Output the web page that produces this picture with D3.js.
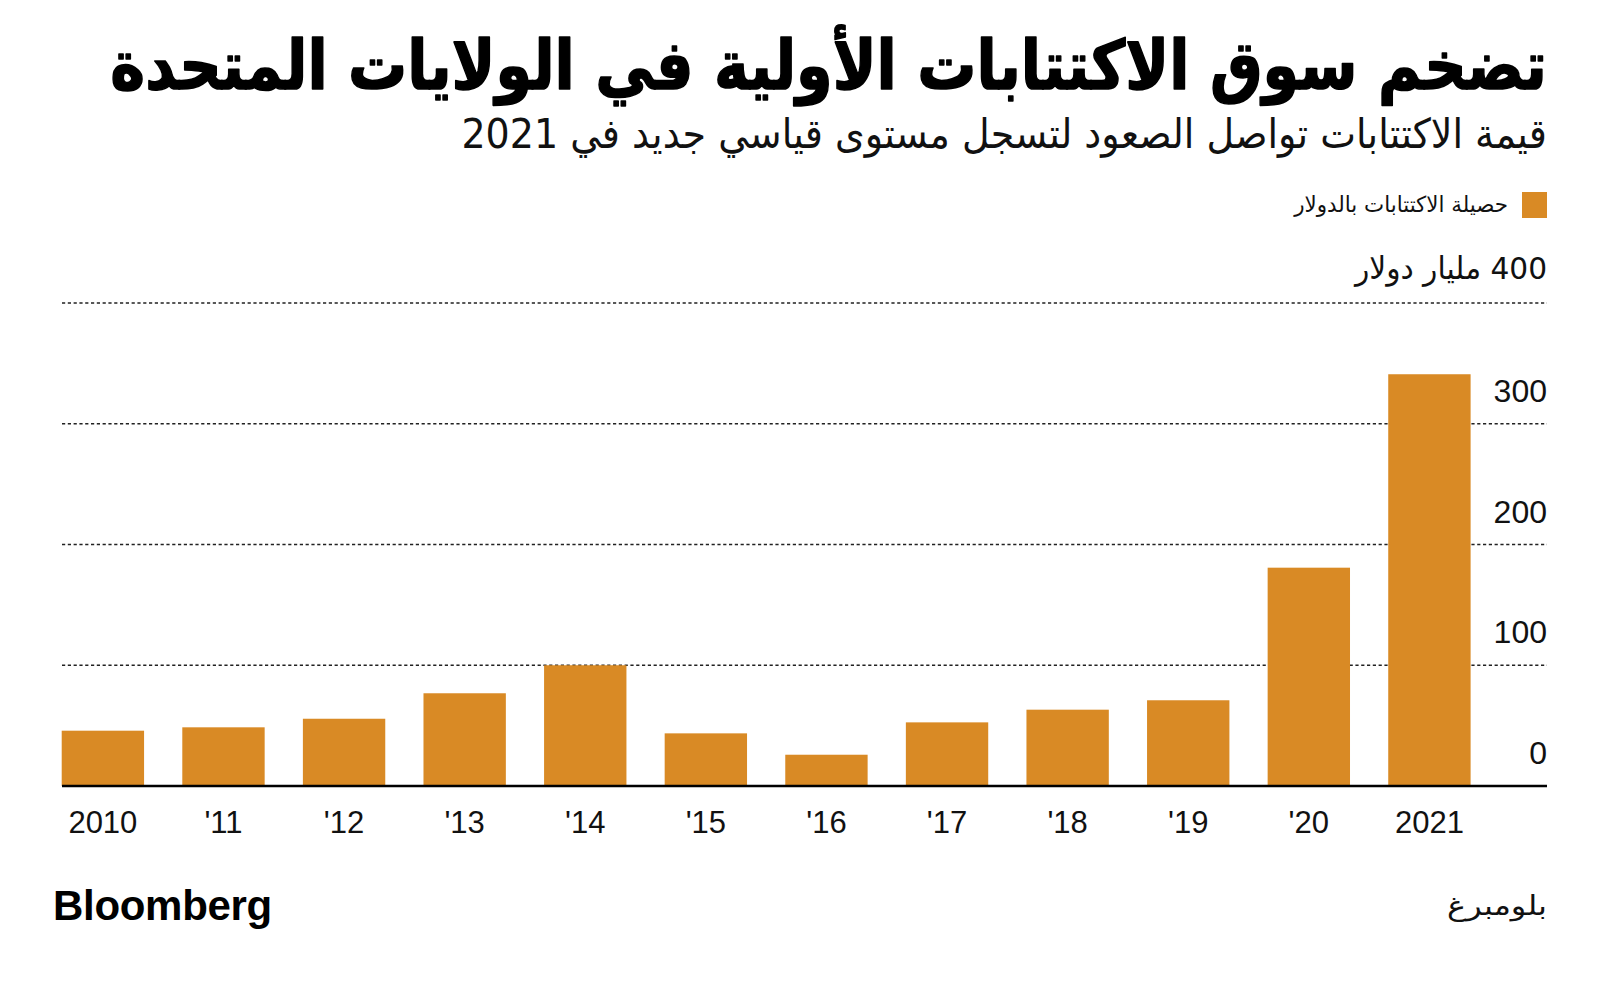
<!DOCTYPE html>
<html>
<head>
<meta charset="utf-8">
<script src="https://cdn.jsdelivr.net/npm/d3@7"></script>
<style>
  html, body { margin: 0; padding: 0; background: #ffffff; }
  svg { display: block; }
</style>
</head>
<body>
<svg id="chart" width="1600" height="985"></svg>
<script>
// ---- Data ----
const years = ["2010", "'11", "'12", "'13", "'14", "'15", "'16", "'17", "'18", "'19", "'20", "2021"];
const proceeds = [45.8, 48.6, 55.7, 76.8, 100, 43.6, 25.9, 52.7, 63.2, 71.0, 180.8, 341];
const yTicks = [0, 100, 200, 300, 400];
const yTopLabel = "400 مليار دولار";
const title = "تضخم سوق الاكتتابات الأولية في الولايات المتحدة";
const subtitle = "قيمة الاكتتابات تواصل الصعود لتسجل مستوى قياسي جديد في 2021";
const legendLabel = "حصيلة الاكتتابات بالدولار";
const sourceLeft = "Bloomberg";
const sourceRight = "بلومبرغ";

const barColor = "#d98a25";
const arabicFont = "'DejaVu Sans', 'Noto Sans', sans-serif";
const latinFont = "'Liberation Sans', Arial, sans-serif";

const svg = d3.select("#chart");

// ---- Scales ----
const x = d3.scaleBand()
  .domain(years)
  .range([61.7, 1470.6])
  .paddingInner(0.317)
  .paddingOuter(0);

const y = d3.scaleLinear()
  .domain([0, 400])
  .range([786, 303]);

const gridLeft = 62, gridRight = 1547;

// ---- Helper: fit Arabic text to a right edge and width ----
function fitText(sel, rightX, baseY, targetWidth) {
  sel.attr("x", 0).attr("y", 0);
  const bb = sel.node().getBBox();
  const sx = targetWidth ? targetWidth / bb.width : 1;
  const tx = rightX - (bb.x + bb.width) * sx;
  sel.attr("transform", `translate(${tx},${baseY}) scale(${sx},1)`);
}

// ---- Gridlines ----
svg.append("g")
  .selectAll("line")
  .data(yTicks.filter(d => d > 0))
  .join("line")
  .attr("x1", gridLeft)
  .attr("x2", gridRight)
  .attr("y1", d => y(d))
  .attr("y2", d => y(d))
  .attr("stroke", "#222")
  .attr("stroke-width", 1.6)
  .attr("stroke-dasharray", "3.2,2.6");

// ---- Bars ----
svg.append("g")
  .selectAll("rect")
  .data(years.map((yr, i) => ({ yr, v: proceeds[i] })))
  .join("rect")
  .attr("x", d => x(d.yr))
  .attr("width", x.bandwidth())
  .attr("y", d => y(d.v))
  .attr("height", d => y(0) - y(d.v))
  .attr("fill", barColor);

// ---- Baseline ----
svg.append("line")
  .attr("x1", gridLeft)
  .attr("x2", gridRight)
  .attr("y1", y(0))
  .attr("y2", y(0))
  .attr("stroke", "#000")
  .attr("stroke-width", 2.6);

// ---- Y tick labels ----
svg.append("g")
  .selectAll("text")
  .data(yTicks.filter(d => d < 400))
  .join("text")
  .attr("x", gridRight)
  .attr("y", d => y(d) - 22)
  .attr("text-anchor", "end")
  .attr("font-family", latinFont)
  .attr("font-size", 32)
  .attr("fill", "#111")
  .text(d => d3.format("d")(d));

const topLab = svg.append("text")
  .attr("direction", "rtl")
  .attr("font-family", arabicFont)
  .attr("font-size", 31)
  .attr("fill", "#111")
  .text(yTopLabel);
fitText(topLab, gridRight, y(400) - 24, 194);

// ---- X axis labels ----
svg.append("g")
  .selectAll("text")
  .data(years)
  .join("text")
  .attr("x", d => x(d) + x.bandwidth() / 2)
  .attr("y", 832.5)
  .attr("text-anchor", "middle")
  .attr("font-family", latinFont)
  .attr("font-size", 31)
  .attr("fill", "#111")
  .text(d => d);

// ---- Title & subtitle ----
const t = svg.append("text")
  .attr("direction", "rtl")
  .attr("font-family", arabicFont)
  .attr("font-weight", "bold")
  .attr("font-size", 68)
  .attr("fill", "#000")
  .attr("stroke", "#000")
  .attr("stroke-width", 1.6)
  .attr("stroke-linejoin", "round")
  .text(title);
fitText(t, 1547, 89, 1437);

const st = svg.append("text")
  .attr("direction", "rtl")
  .attr("font-family", arabicFont)
  .attr("font-size", 41)
  .attr("fill", "#111")
  .text(subtitle);
fitText(st, 1547, 148, 1086);

// ---- Legend ----
svg.append("rect")
  .attr("x", 1522)
  .attr("y", 192)
  .attr("width", 25)
  .attr("height", 26)
  .attr("fill", barColor);

const lg = svg.append("text")
  .attr("direction", "rtl")
  .attr("font-family", arabicFont)
  .attr("font-size", 22)
  .attr("fill", "#111")
  .text(legendLabel);
fitText(lg, 1508, 212, 215);

// ---- Footer ----
svg.append("text")
  .attr("x", 53)
  .attr("y", 920)
  .attr("font-family", latinFont)
  .attr("font-weight", "bold")
  .attr("font-size", 42)
  .attr("letter-spacing", "-0.3")
  .attr("fill", "#000")
  .text(sourceLeft);

const sr = svg.append("text")
  .attr("direction", "rtl")
  .attr("font-family", arabicFont)
  .attr("font-size", 27)
  .attr("fill", "#111")
  .text(sourceRight);
fitText(sr, 1547, 915, 100);
</script>
</body>
</html>
